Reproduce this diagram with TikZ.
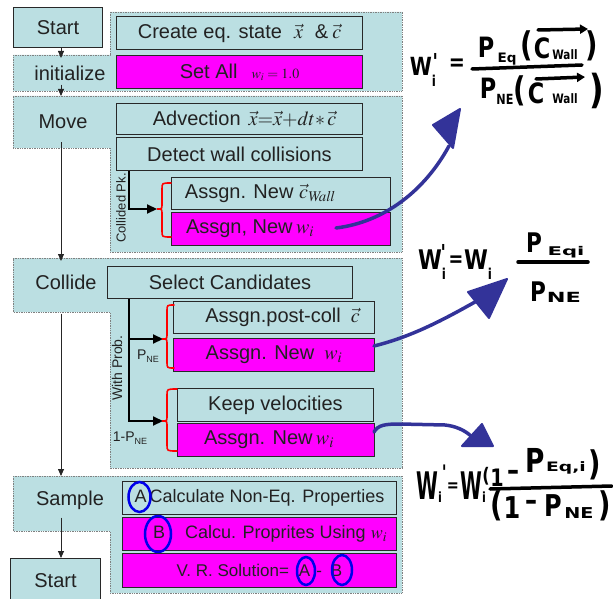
\documentclass[tikz,border=0pt]{standalone}
\usepackage{mathptmx}
\usepackage{fontspec}
\setmainfont{Liberation Sans}
\newfontfamily\hand{DejaVu Sans}[FakeStretch=0.8]
\usetikzlibrary{arrows.meta}
\definecolor{tealfill}{RGB}{187,223,226}
\definecolor{magfill}{RGB}{255,0,255}
\definecolor{txtcol}{RGB}{34,34,34}
\definecolor{bordcol}{RGB}{40,40,40}
\definecolor{penblue}{RGB}{51,51,153}
\definecolor{ringblue}{RGB}{0,0,235}
\newcommand{\fs}[1]{\fontsize{#1}{#1}\selectfont}
\newcommand{\hwt}[4]{\node[hwtext, font=\hand\bfseries\fs{#3}] (#1) at (#2) {#4};}
\newcommand{\drawbrace}[6]{\draw[redbrace] (#1,#4) .. controls (#2,#4) .. (#2,#4+6) -- (#2,#5-5) .. controls (#2,#5) .. (#3,#5) .. controls (#2,#5) .. (#2,#5+5) -- (#2,#6-6) .. controls (#2,#6) .. (#1,#6);}
\begin{document}
\begin{tikzpicture}[x=1pt,y=-1pt,
  regionbox/.style={fill=tealfill, draw=gray, densely dotted, line width=0.7pt},
  tbox/.style={draw=bordcol, fill=tealfill, line width=1pt, anchor=north west, inner sep=0pt, text=txtcol, font=\fs{20}},
  mbox/.style={tbox, fill=magfill},
  lbl/.style={inner sep=0pt, text=txtcol, font=\fs{20}},
  flow/.style={draw=black!85, line width=0.8pt, -{Triangle[length=7pt,width=6pt]}},
  branchline/.style={draw=black, line width=2.2pt, -{Triangle[length=10pt,width=9pt]}},
  redbrace/.style={draw=red, line width=1.6pt, line cap=round},
  penline/.style={draw=penblue, line width=3.5pt, line cap=round},
  penhead/.style={fill=penblue, draw=penblue, line width=2pt, line join=round},
  ringmark/.style={draw=ringblue, line width=2.5pt},
  hwtext/.style={inner sep=0pt, text=black},
  hwline/.style={draw=black, line width=3.5pt, line cap=round},
]
\useasboundingbox (0,0) rectangle (613,599);
\fill[white] (0,0) rectangle (613,599);

% regions
\path[regionbox] (13,55) -- (110,55) -- (110,12) -- (402,12) -- (402,91) -- (13,91) -- cycle;
\path[regionbox] (13,96) -- (402,96) -- (402,252) -- (110,252) -- (110,148) -- (13,148) -- cycle;
\path[regionbox] (13,258) -- (402,258) -- (402,468) -- (110,468) -- (110,312) -- (13,312) -- cycle;
\path[regionbox] (13,476) -- (402,476) -- (402,593) -- (110,593) -- (110,531) -- (13,531) -- cycle;

% region labels
\node[lbl] (init) at (70,73) {initialize};
\node[lbl] (move) at (63,122) {Move};
\node[lbl] (collide) at (66,282) {Collide};
\node[lbl] (sample) at (70,500) {Sample};

% boxes
\node[tbox, minimum width=89pt, minimum height=40pt] (start) at (13,7) {Start};
\node[tbox, minimum width=246pt, minimum height=33pt] (create) at (116,16) {Create eq. state\hspace{12pt}$\vec{x}$\hspace{12pt}\&\hspace{4pt}$\vec{c}$};
\node[mbox, minimum width=246pt, minimum height=33pt] (setall) at (116,55) {Set All\hspace{14pt}{\fs{14}$w_i=1.0$}};
\node[tbox, minimum width=246pt, minimum height=31pt] (advect) at (116,103) {\hspace*{10pt}Advection\hspace{8pt}$\vec{x}{=}\vec{x}{+}dt{*}\,\vec{c}$};
\node[tbox, minimum width=246pt, minimum height=33pt] (detect) at (116,137) {Detect wall collisions};
\node[tbox, minimum width=219pt, minimum height=32pt] (cwall) at (171,177) {Assgn. New $\vec{c}_{\mathit{Wall}}$\hspace*{42pt}};
\node[mbox, minimum width=219pt, minimum height=33pt] (wmove) at (171,212) {Assgn, New\,$w_i$\hspace*{62pt}};
\node[tbox, minimum width=245pt, minimum height=32pt] (select) at (107,266) {Select Candidates};
\node[tbox, minimum width=201pt, minimum height=32pt] (postcoll) at (173,301) {\hspace*{17pt}Assgn.post-coll\hspace{10pt}$\vec{c}$};
\node[mbox, minimum width=201pt, minimum height=33pt] (wcolla) at (173,338) {Assgn. New\hspace{10pt}$w_i$};
\node[tbox, minimum width=196pt, minimum height=33pt] (keep) at (177,388) {Keep velocities};
\node[mbox, minimum width=197pt, minimum height=33pt] (wcollb) at (177,423) {Assgn. New\,$w_i$\hspace*{14pt}};
\node[tbox, minimum width=274pt, minimum height=33pt, font=\fs{18}] (calca) at (122,481) {A\hspace{3pt}Calculate Non-Eq. Properties};
\node[mbox, minimum width=274pt, minimum height=33pt, font=\fs{18}] (calcb) at (122,517) {\hspace*{21pt}B\hspace{20pt}Calcu. Proprites Using $w_i$};
\node[mbox, minimum width=274pt, minimum height=34pt, font=\fs{17}] (vrsol) at (122,553) {V. R. Solution=\hspace{10pt}A\hspace{6pt}-\hspace{9pt}B};
\node[tbox, minimum width=90pt, minimum height=45pt] (start2) at (10,558) {Start};

% flow arrows
\coordinate (initIn) at (61,58);
\coordinate (moveIn) at (61,96);
\coordinate (collideIn) at (61,261);
\coordinate (sampleIn) at (61,476);
\draw[flow] (start.south -| initIn) -- (initIn);
\draw[flow, shorten <=4pt] (init.south -| moveIn) -- (moveIn);
\draw[flow, shorten <=13pt] (move.south -| collideIn) -- (collideIn);
\draw[flow, shorten <=24pt] (collide.south -| sampleIn) -- (sampleIn);
\draw[flow, shorten <=8pt] (sample.south -| sampleIn) -- (start2.north -| sampleIn);

% branch lines
\coordinate (mvb) at (129,209);
\coordinate (bra) at (157,209);
\coordinate (cbx) at (129,300);
\coordinate (brb) at (163,339);
\coordinate (brc) at (163,421);
\draw[branchline] (detect.south -| mvb) |- (bra);
\draw[branchline] (select.south -| cbx) |- (brc);
\draw[branchline] (brb -| cbx) -- (brb);

% braces
\drawbrace{171}{162}{157}{183}{209}{237}
\drawbrace{174}{167}{162}{305}{339}{368}
\drawbrace{177}{167}{162}{389}{421}{451}

% side labels
\node[lbl, font=\fs{13}, rotate=90] (collided) at (121,208) {Collided Pk.};
\node[lbl, font=\fs{14}, rotate=90] (withprob) at (117,368) {With Prob.};
\node[lbl, font=\fs{14}] (pne) at (148,356) {P\raisebox{-2.5pt}{\fs{9}NE}};
\node[lbl, font=\fs{14}] (onepne) at (130,438) {1-P\raisebox{-2.5pt}{\fs{9}NE}};

% blue rings
\draw[ringmark] (139.5,497) ellipse [x radius=11pt, y radius=15pt];
\draw[ringmark] (158,534) ellipse [x radius=13pt, y radius=18pt];
\draw[ringmark] (306,571) ellipse [x radius=9pt, y radius=14pt];
\draw[ringmark] (342,570) ellipse [x radius=10pt, y radius=15pt];

% pen arrows
\coordinate (pas) at (336,228);
\coordinate (pae) at (449,146);
\draw[penline] (pas) .. controls (385,222) and (425,190) .. (pae);
\filldraw[penhead] (433,125) -- (460,109) -- (453,148) -- cycle;
\coordinate (pbs) at (374,346);
\coordinate (pbe) at (482,298);
\draw[penline] (pbs) .. controls (410,337) and (440,322) .. (pbe);
\filldraw[penhead] (468,292) -- (507,279) -- (489,318) -- cycle;
\coordinate (pcs) at (374,432);
\coordinate (pce) at (472,437);
\draw[penline] (pcs) .. controls (378,425) and (385,424) .. (400,424) -- (445,425) .. controls (455,426) and (465,430) .. (pce);
\filldraw[penhead] (462,446) -- (482,424) -- (493,446) -- cycle;

% equation 1
\hwt{eAa}{421,66}{25}{W}
\hwt{eAb}{434,81}{15}{i}
\hwt{eAc}{436,61}{22}{\textquotesingle}
\hwt{eAd}{457,65}{24}{=}
\draw[hwline] (472,69) -- (582,65);
\hwt{eAe}{486,47}{28}{P}
\hwt{eAf}{507,59}{13}{\scalebox{1.3}[1]{Eq}}
\hwt{eAg}{527,46}{34}{(}
\hwt{eAh}{542,48}{28}{C}
\hwt{eAi}{565,55}{13}{Wall}
\hwt{eAj}{592,46}{34}{)}
\draw[hwline, -{Triangle[length=8pt,width=9pt]}] (538,30) -- (588,29);
\hwt{eAk}{488,88}{28}{P}
\hwt{eAl}{505,99}{14}{NE}
\hwt{eAm}{520,91}{34}{(}
\hwt{eAn}{536,93}{28}{C}
\hwt{eAo}{565,99}{13}{Wall}
\hwt{eAp}{597,91}{40}{)}
\draw[hwline, -{Triangle[length=8pt,width=9pt]}] (536,79) -- (585,77);

% equation 2
\hwt{eBa}{430,260}{27}{W}
\hwt{eBb}{444,274}{15}{i}
\hwt{eBc}{444,252}{22}{\textquotesingle}
\hwt{eBd}{456,261}{22}{=}
\hwt{eBe}{476,260}{27}{W}
\hwt{eBf}{490,274}{15}{i}
\draw[hwline] (518,262) -- (588,262);
\hwt{eBg}{534,243}{27}{P}
\hwt{eBh}{566,252}{12}{\scalebox{2.2}[1]{Eqi}}
\hwt{eBi}{538,292}{27}{P}
\hwt{eBj}{564,297}{14}{\scalebox{2}[1]{NE}}

% equation 3
\hwt{eCa}{427,486}{38}{\scalebox{0.65}[1]{W}}
\hwt{eCb}{440,497}{14}{i}
\hwt{eCc}{445,472}{20}{\textquotesingle}
\hwt{eCd}{453,487}{18}{=}
\hwt{eCe}{471,486}{38}{\scalebox{0.65}[1]{W}}
\hwt{eCf}{484,497}{14}{i}
\hwt{eCg}{486,476}{20}{(}
\hwt{eCh}{497,478}{24}{1}
\hwt{eCi}{513,475}{30}{\textendash}
\hwt{eCj}{535,460}{33}{P}
\hwt{eCk}{566,468}{13}{\scalebox{1.8}[1]{Eq,i}}
\hwt{eCl}{595,465}{34}{)}
\draw[hwline] (490,489) -- (612,486);
\hwt{eCm}{497,506}{34}{(}
\hwt{eCn}{512,508}{30}{1}
\hwt{eCo}{531,505}{30}{\textendash}
\hwt{eCp}{553,506}{30}{P}
\hwt{eCq}{579,513}{15}{\scalebox{1.6}[1]{NE}}
\hwt{eCr}{605,506}{34}{)}
\end{tikzpicture}
\end{document}
